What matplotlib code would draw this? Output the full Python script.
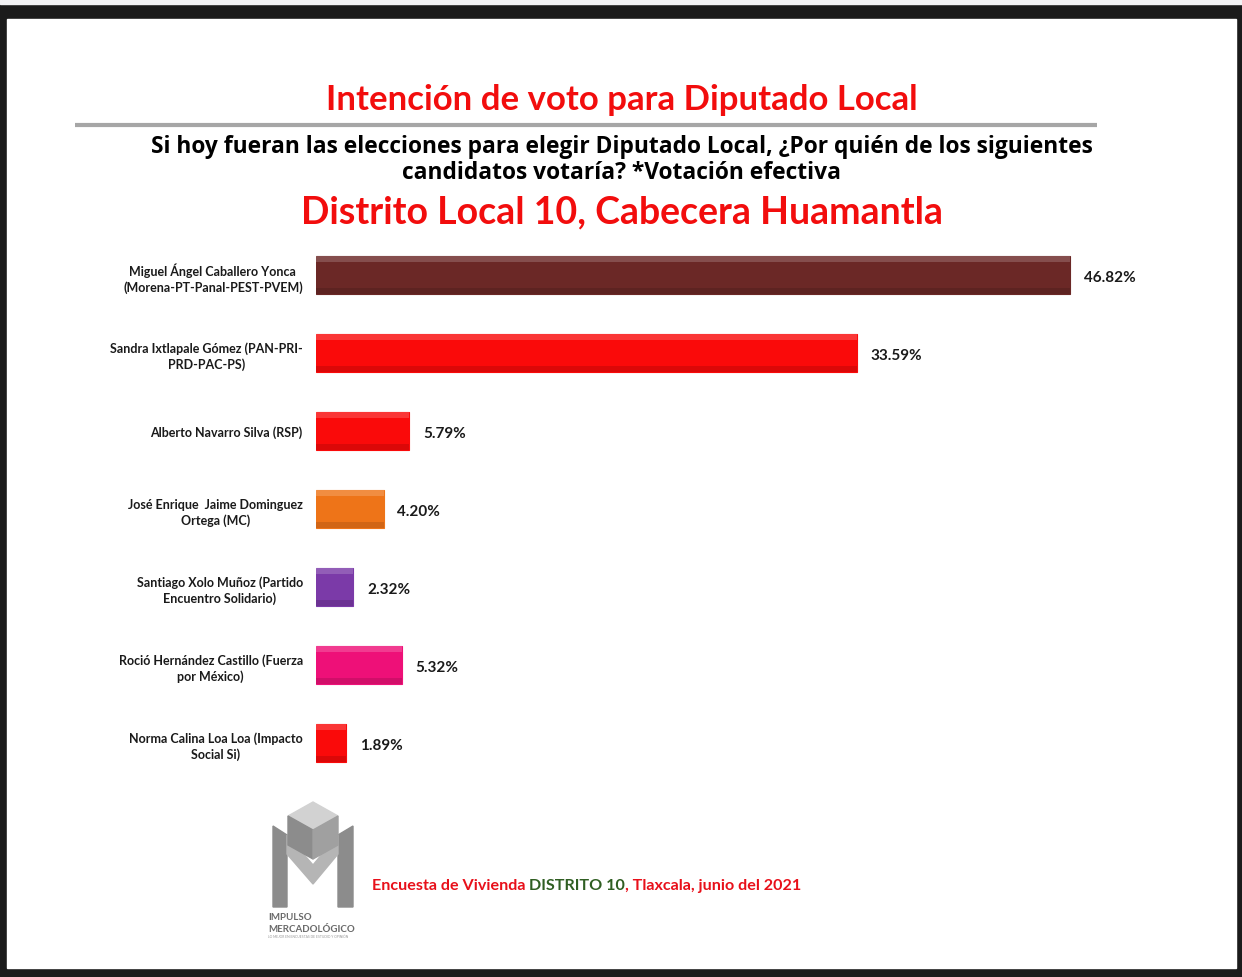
import matplotlib
matplotlib.use("Agg")
import matplotlib.pyplot as plt
from matplotlib.patches import Rectangle, Polygon

candidates = [
    "Miguel Ángel Caballero Yonca\n(Morena-PT-Panal-PEST-PVEM)",
    "Sandra Ixtlapale Gómez (PAN-PRI-\nPRD-PAC-PS)",
    "Alberto Navarro Silva (RSP)",
    "José Enrique  Jaime Dominguez\nOrtega (MC)",
    "Santiago Xolo Muñoz (Partido\nEncuentro Solidario)",
    "Roció Hernández Castillo (Fuerza\npor México)",
    "Norma Calina Loa Loa (Impacto\nSocial Si)",
]
values = [46.82, 33.59, 5.79, 4.20, 2.32, 5.32, 1.89]
value_labels = ["46.82%", "33.59%", "5.79%", "4.20%", "2.32%", "5.32%", "1.89%"]
colors = ["#6B2826", "#FA0A0A", "#FA0A0A", "#EE7418", "#7B3AA8", "#EE1078", "#FA0A0A"]

W, H = 1242, 978
FONT = ["Lato", "DejaVu Sans"]
plt.rcParams["font.family"] = FONT

fig = plt.figure(figsize=(W / 100, H / 100), dpi=100)
fig.patch.set_facecolor("#1B1B1B")

# background overlay axes in pixel coords
bg = fig.add_axes([0, 0, 1, 1])
bg.set_xlim(0, W)
bg.set_ylim(H, 0)
bg.axis("off")
bg.add_patch(Rectangle((0, 0), W, 5, color="#F2F2F4", zorder=0))
bg.add_patch(Rectangle((7, 20), 1229, 949, color="white", zorder=0))
bg.plot([75, 1097], [126, 126], color="#A6A6A6", lw=3, solid_capstyle="butt")

bg.text(622, 100, "Intención de voto para Diputado Local", color="#F20D0D",
        fontsize=25, fontweight="bold", ha="center", va="center")
bg.text(622, 147, "Si hoy fueran las elecciones para elegir Diputado Local, ¿Por quién de los siguientes",
        color="black", fontsize=16.4, fontweight="bold", ha="center", va="center",
        family=["Open Sans", "DejaVu Sans"])
bg.text(622, 173, "candidatos votaría? *Votación efectiva",
        color="black", fontsize=16.4, fontweight="bold", ha="center", va="center",
        family=["Open Sans", "DejaVu Sans"])
bg.text(622, 212, "Distrito Local 10, Cabecera Huamantla", color="#F20D0D",
        fontsize=27, fontweight="bold", ha="center", va="center")

# footer with mixed colors
parts = [("Encuesta de Vivienda ", "#E8101A"), ("DISTRITO 10", "#2F5E22"),
         (", Tlaxcala, junio del 2021", "#E8101A")]
fig.canvas.draw()
renderer = fig.canvas.get_renderer()
x = 372
for s, c in parts:
    t = bg.text(x, 886, s, color=c, fontsize=11.6, fontweight="bold", ha="left", va="center")
    bb = t.get_window_extent(renderer=renderer)
    x += bb.width

# logo (simplified)
g1, g2, g3 = "#8C8C8C", "#B5B5B5", "#D2D2D2"
bg.add_patch(Polygon([(273, 827), (287, 836), (287, 908), (273, 908)], color=g1))
bg.add_patch(Polygon([(338, 836), (353, 827), (353, 908), (338, 908)], color=g1))
bg.add_patch(Polygon([(287, 836), (313, 866), (313, 885), (287, 855)], color=g2))
bg.add_patch(Polygon([(338, 836), (313, 866), (313, 885), (338, 855)], color=g2))
bg.add_patch(Polygon([(313, 803), (338, 817), (313, 831), (288, 817)], color=g3))
bg.add_patch(Polygon([(288, 817), (313, 831), (313, 860), (288, 846)], color=g1))
bg.add_patch(Polygon([(338, 817), (313, 831), (313, 860), (338, 846)], color="#A0A0A0"))
bg.text(268, 917, "IMPULSO", color="#6A6A6A", fontsize=7, fontweight="bold", ha="left", va="center")
bg.text(268, 929, "MERCADOLÓGICO", color="#6A6A6A", fontsize=7, fontweight="bold", ha="left", va="center")
bg.text(268, 937, "LO MEJOR EN ENCUESTAS DE ESTUDIO Y OPINIÓN", color="#9A9A9A", fontsize=2.4, ha="left", va="center")

# main bar axes
left_px, right_px = 316, 1216
top_px, bot_px = 237, 783
ax = fig.add_axes([left_px / W, 1 - bot_px / H, (right_px - left_px) / W, (bot_px - top_px) / H])
ax.set_facecolor("none")
xmax = 46.82 * (right_px - left_px) / (1070 - left_px)
ax.set_xlim(0, xmax)
n = len(values)
ypos = list(range(n))
ax.set_ylim(n - 0.5, -0.5)
ax.barh(ypos, values, height=0.49, color=colors, edgecolor=colors, linewidth=0.8, zorder=2)
# subtle 3D highlight
for yy, v in zip(ypos, values):
    ax.barh(yy - 0.49 / 2 + 0.04, v, height=0.08, color="white", alpha=0.18, linewidth=0, zorder=3)
    ax.barh(yy + 0.49 / 2 - 0.04, v, height=0.08, color="black", alpha=0.12, linewidth=0, zorder=3)

for yy, v, lab in zip(ypos, values, value_labels):
    ax.text(v + 0.85, yy + 0.03, lab, ha="left", va="center", fontsize=11, fontweight="bold", color="#1A1A1A")

ax.set_yticks(ypos)
ax.set_yticklabels(candidates, fontsize=9.0, fontweight="bold", color="#1A1A1A",
                   multialignment="center", linespacing=1.32)
ax.tick_params(axis="y", length=0, pad=9.5)
ax.set_xticks([])
for s in ax.spines.values():
    s.set_visible(False)

fig.savefig("out.png", dpi=100, facecolor=fig.get_facecolor())
